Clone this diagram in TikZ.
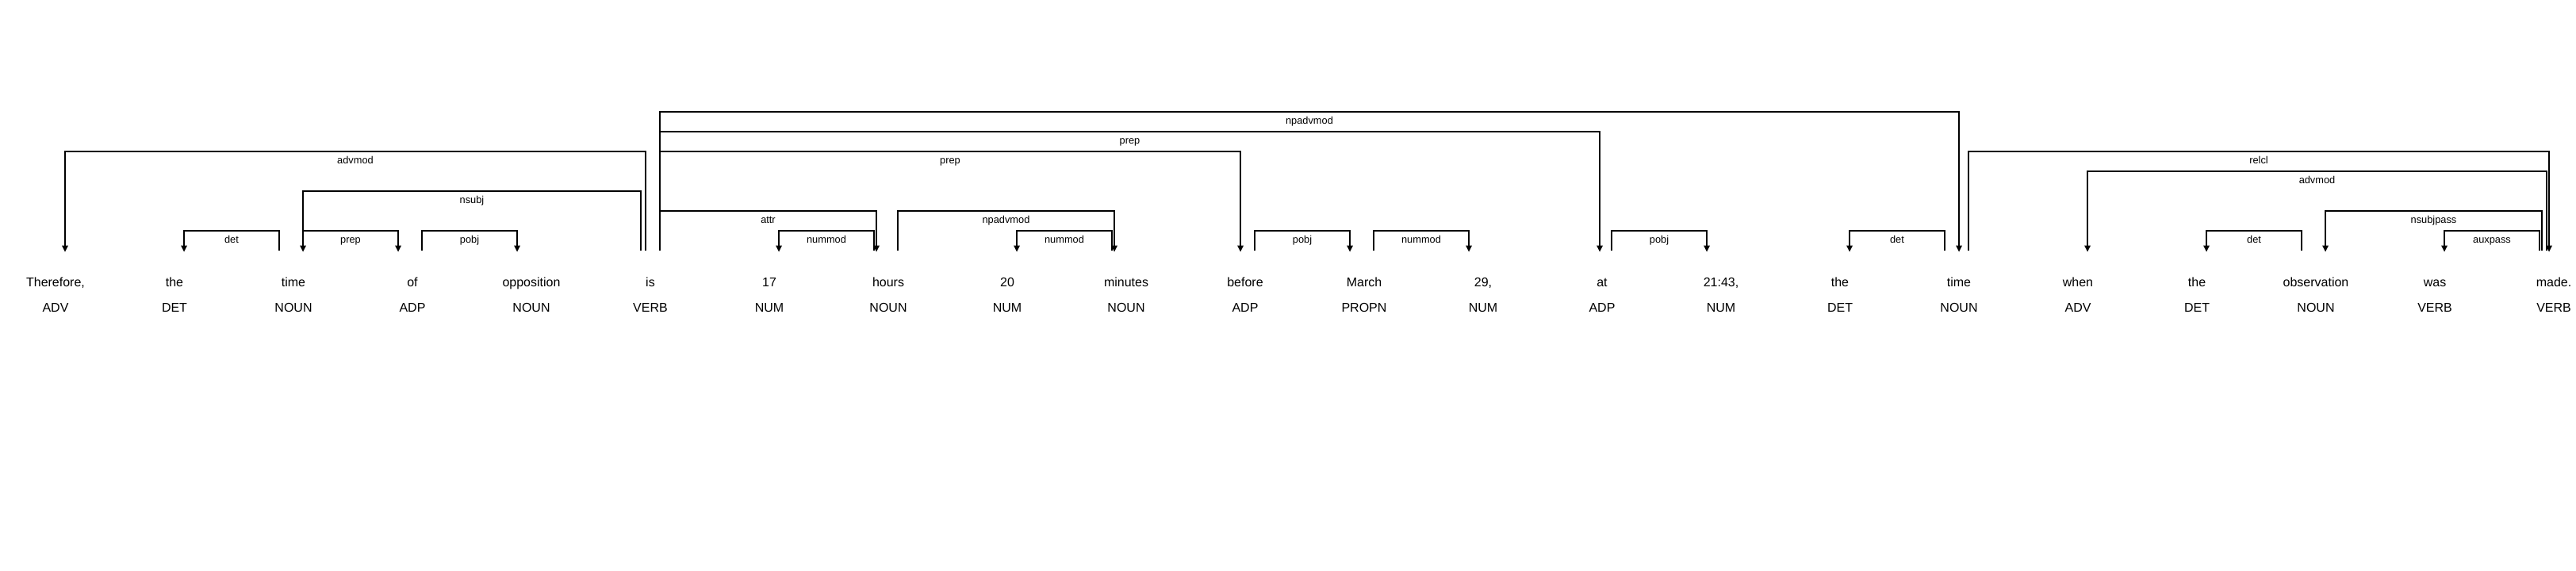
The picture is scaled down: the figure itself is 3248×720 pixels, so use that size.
\documentclass[tikz,border=0pt]{standalone}
\usepackage{fontspec}
\setmainfont{Liberation Sans}
\usetikzlibrary{calc}
\tikzset{
  word/.style={anchor=base, inner sep=0pt, font=\fontsize{16}{19}\selectfont},
  tag/.style={anchor=base, inner sep=0pt, font=\fontsize{16}{19}\selectfont},
  deplabel/.style={anchor=base, inner sep=0pt, font=\fontsize{12.8}{15}\selectfont, yshift=-15.5pt},
  arcline/.style={line width=2pt, draw=black},
  arrowhead/.style={fill=black},
}
\begin{document}
\begin{tikzpicture}[x=1pt,y=-1pt]
\useasboundingbox (0,0) rectangle (3248,720);
% words
\node[word] (w0) at (70,361.5) {Therefore,};
\node[word] (w1) at (220,361.5) {the};
\node[word] (w2) at (370,361.5) {time};
\node[word] (w3) at (520,361.5) {of};
\node[word] (w4) at (670,361.5) {opposition};
\node[word] (w5) at (820,361.5) {is};
\node[word] (w6) at (970,361.5) {17};
\node[word] (w7) at (1120,361.5) {hours};
\node[word] (w8) at (1270,361.5) {20};
\node[word] (w9) at (1420,361.5) {minutes};
\node[word] (w10) at (1570,361.5) {before};
\node[word] (w11) at (1720,361.5) {March};
\node[word] (w12) at (1870,361.5) {29,};
\node[word] (w13) at (2020,361.5) {at};
\node[word] (w14) at (2170,361.5) {21:43,};
\node[word] (w15) at (2320,361.5) {the};
\node[word] (w16) at (2470,361.5) {time};
\node[word] (w17) at (2620,361.5) {when};
\node[word] (w18) at (2770,361.5) {the};
\node[word] (w19) at (2920,361.5) {observation};
\node[word] (w20) at (3070,361.5) {was};
\node[word] (w21) at (3220,361.5) {made.};
% tags
\node[tag] (t0) at (70,393.5) {ADV};
\node[tag] (t1) at (220,393.5) {DET};
\node[tag] (t2) at (370,393.5) {NOUN};
\node[tag] (t3) at (520,393.5) {ADP};
\node[tag] (t4) at (670,393.5) {NOUN};
\node[tag] (t5) at (820,393.5) {VERB};
\node[tag] (t6) at (970,393.5) {NUM};
\node[tag] (t7) at (1120,393.5) {NOUN};
\node[tag] (t8) at (1270,393.5) {NUM};
\node[tag] (t9) at (1420,393.5) {NOUN};
\node[tag] (t10) at (1570,393.5) {ADP};
\node[tag] (t11) at (1720,393.5) {PROPN};
\node[tag] (t12) at (1870,393.5) {NUM};
\node[tag] (t13) at (2020,393.5) {ADP};
\node[tag] (t14) at (2170,393.5) {NUM};
\node[tag] (t15) at (2320,393.5) {DET};
\node[tag] (t16) at (2470,393.5) {NOUN};
\node[tag] (t17) at (2620,393.5) {ADV};
\node[tag] (t18) at (2770,393.5) {DET};
\node[tag] (t19) at (2920,393.5) {NOUN};
\node[tag] (t20) at (3070,393.5) {VERB};
\node[tag] (t21) at (3220,393.5) {VERB};
% arcs
\foreach \s/\e/\l/\lab/\d [count=\i] in {
 0/5/5/advmod/l, 1/2/1/det/l, 2/5/3/nsubj/l, 2/3/1/prep/r, 3/4/1/pobj/r,
 5/7/2/attr/r, 6/7/1/nummod/l, 7/9/2/npadvmod/r, 8/9/1/nummod/l, 5/10/5/prep/r,
 10/11/1/pobj/r, 11/12/1/nummod/r, 5/13/6/prep/r, 13/14/1/pobj/r, 15/16/1/det/l,
 5/16/7/npadvmod/r, 16/21/5/relcl/r, 17/21/4/advmod/l, 18/19/1/det/l,
 19/21/2/nsubjpass/l, 20/21/1/auxpass/l}
{
  \pgfmathsetmacro\xe{-3*(7-\l)}
  \pgfmathsetmacro\h{-25*\l}
  \coordinate (as\i) at ($(w\s.base)+(12,-46)$);
  \coordinate (ae\i) at ($(w\e.base)+(\xe,-46)$);
  \draw[arcline] (as\i) -- ++(0,\h) -| (ae\i) node[deplabel,pos=0.25]{\lab};
  \if l\d
    \fill[arrowhead] (as\i) ++(0,2) -- ++(-4,-8) -- ++(8,0) -- cycle;
  \else
    \fill[arrowhead] (ae\i) ++(0,2) -- ++(-4,-8) -- ++(8,0) -- cycle;
  \fi
}
\end{tikzpicture}
\end{document}
